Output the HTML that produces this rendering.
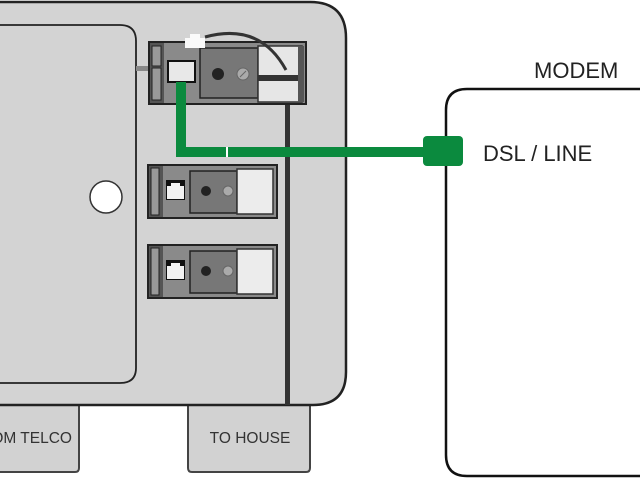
<!DOCTYPE html>
<html><head><meta charset="utf-8"><style>html,body{margin:0;padding:0;background:#fff;width:640px;height:480px;overflow:hidden}</style></head>
<body>
<svg width="640" height="480" viewBox="0 0 640 480" xmlns="http://www.w3.org/2000/svg" font-family="Liberation Sans, Arial, sans-serif">
<path d="M-10 400 H79 V468 Q79 472 75 472 H-10 Z" fill="#d2d2d2" stroke="#444" stroke-width="2"/>
<text x="72" y="443" font-size="15.5" fill="#333" text-anchor="end">FROM TELCO</text>
<path d="M188 400 H310 V468 Q310 472 306 472 H192 Q188 472 188 468 Z" fill="#d2d2d2" stroke="#444" stroke-width="2"/>
<text x="250" y="443" font-size="15.5" fill="#333" text-anchor="middle">TO HOUSE</text>
<path d="M-10 2 H310 Q346 2 346 38 V372 Q346 405 313 405 H-10 Z" fill="#d3d3d3" stroke="#222" stroke-width="2.5"/>
<path d="M-10 25 H120 Q136 25 136 41 V368 Q136 383 120 383 H-10 Z" fill="#d3d3d3" stroke="#222" stroke-width="1.8"/>
<circle cx="106" cy="197" r="16" fill="#fff" stroke="#333" stroke-width="1.5"/>
<rect x="285" y="100" width="5" height="305" fill="#333"/>
<rect x="136" y="66" width="13" height="5" fill="#888"/>
<rect x="149" y="42" width="157" height="62" fill="#8a8a8a" stroke="#222" stroke-width="2"/>
<rect x="150" y="43" width="14" height="60" fill="#555"/>
<rect x="152" y="46" width="9" height="20" fill="#999" stroke="#222"/>
<rect x="152" y="68" width="9" height="32" fill="#999" stroke="#222"/>
<rect x="200" y="48" width="58" height="50" fill="#777" stroke="#222" stroke-width="1.5"/>
<circle cx="218" cy="74" r="6" fill="#222"/>
<circle cx="243" cy="74" r="6" fill="#aaa" stroke="#666"/>
<line x1="240" y1="77" x2="246" y2="71" stroke="#666"/>
<rect x="258" y="46" width="44" height="56" fill="#e6e6e6" stroke="#333" stroke-width="1.5"/>
<rect x="258" y="75" width="44" height="6" fill="#333"/>
<rect x="298" y="46" width="6" height="56" fill="#555"/>
<rect x="168" y="61" width="27" height="21" fill="#e8e8e8" stroke="#111" stroke-width="2"/>
<path d="M205 37 Q260 22 286 70" fill="none" stroke="#333" stroke-width="3"/>
<path d="M185 48 V38 H190 V34 H200 V38 H205 V48 Z" fill="#fafafa"/>
<path d="M181 82 V152 H425" fill="none" stroke="#0b8a3e" stroke-width="10"/>
<rect x="226" y="147" width="2" height="10" fill="#fff"/>
<g id="m">
<rect x="148" y="165" width="129" height="53" fill="#8a8a8a" stroke="#222" stroke-width="2"/>
<rect x="149" y="166" width="14" height="51" fill="#555"/>
<rect x="151" y="168" width="8" height="47" fill="#999" stroke="#222"/>
<rect x="190" y="171" width="47" height="42" fill="#777" stroke="#222" stroke-width="1.5"/>
<circle cx="206" cy="191" r="5" fill="#222"/>
<circle cx="228" cy="191" r="5" fill="#aaa" stroke="#666"/>
<rect x="237" y="169" width="36" height="45" fill="#ececec" stroke="#333" stroke-width="1.5"/>
<rect x="166" y="180" width="19" height="20" fill="#111"/>
<path d="M167 199 V186 H171 V183 H180 V186 H184 V199 Z" fill="#f2f2f2"/>
</g>
<use href="#m" y="80"/>
<path d="M642 89 H467 Q446 89 446 110 V455 Q446 476 467 476 H642" fill="#fff" stroke="#111" stroke-width="2.5"/>
<text x="534" y="78" font-size="22" fill="#222">MODEM</text>
<rect x="423" y="136" width="40" height="30" rx="4" fill="#0b8a3e"/>
<text x="483" y="161" font-size="22" fill="#222">DSL / LINE</text>
</svg>
</body></html>
